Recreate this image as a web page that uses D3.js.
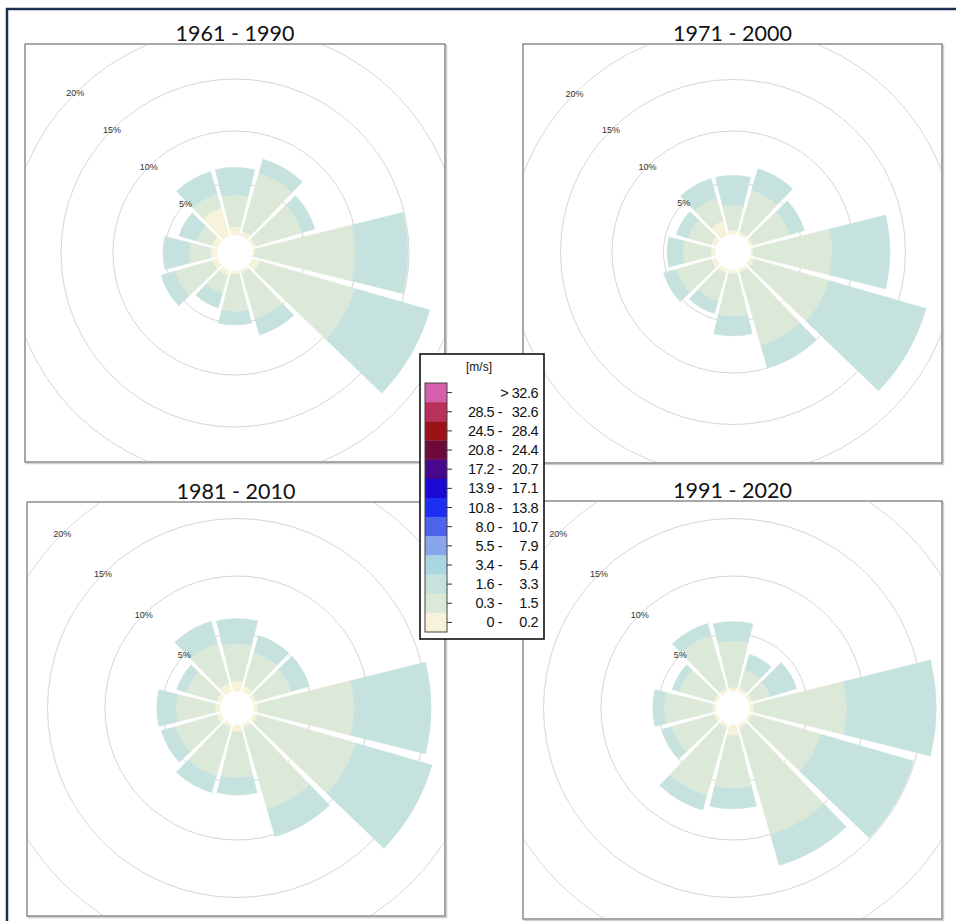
<!DOCTYPE html>
<html>
<head>
<meta charset="utf-8">
<script src="https://cdn.jsdelivr.net/npm/d3@7/dist/d3.min.js"></script>
<style>
    body { margin: 0; background: #fff; }
    svg text { font-family: "Liberation Sans", Arial, sans-serif; }
</style>
</head>
<body>
<div id="chart"></div>
<script>
// wind direction of each sector (degrees from north)
const directions = [0, 30, 60, 90, 120, 150, 180, 210, 240, 270, 300, 330];

const periods = ["1961 - 1990", "1971 - 2000", "1981 - 2010", "1991 - 2020"];

// frequency (%) per direction for the speed classes 0-0.2, 0.3-1.5, 1.6-3.3 m/s
const calm6190 = [0.8, 0.5, 0.4, 0.2, 0.8, 0.3, 0.3, 0.5, 0.6, 0.6, 0.6, 2.8];
const low6190  = [3.05, 5.8, 4.6, 9.6, 9.5, 4.6, 3.6, 1.8, 3.7, 2.1, 1.5, 1.4];
const mid6190  = [2.65, 1.4, 1.3, 5.1, 7.5, 1.6, 1.3, 1.5, 1.4, 2.5, 1.8, 2.25];

const calm7100 = [0.4, 0.3, 0.3, 0.2, 0.4, 0.3, 0.4, 0.4, 0.5, 0.4, 0.5, 1.4];
const low7100  = [2.4, 4.2, 3.7, 7.65, 7.6, 7.4, 4.1, 2.8, 3.5, 2.7, 2.3, 2.3];
const mid7100  = [2.9, 2.2, 1.5, 5.65, 9.8, 2.3, 1.9, 1.3, 1.3, 1.55, 1.2, 2.0];

const calm8110 = [0.9, 0.5, 0.3, 0.3, 0.4, 0.3, 0.6, 0.3, 0.4, 0.4, 0.4, 0.8];
const low8110  = [3.2, 3.1, 3.15, 8.4, 8.9, 7.4, 4.0, 4.4, 3.7, 3.4, 2.7, 3.6];
const mid8110  = [2.2, 1.5, 1.65, 6.7, 6.9, 2.5, 1.5, 1.5, 1.3, 1.7, 0.9, 2.0];

const calm9120 = [0.3, 0.3, 0.3, 0.3, 0.3, 0.3, 0.9, 0.3, 0.3, 0.3, 0.3, 0.3];
const low9120  = [4.05, 1.7, 1.6, 8.1, 6.2, 9.7, 4.6, 6.2, 3.8, 4.2, 3.1, 4.8];
const mid9120  = [1.7, 1.4, 2.4, 7.8, 8.4, 2.8, 1.8, 1.3, 0.9, 1.0, 0.65, 1.1];

// legend classes [m/s], top to bottom
const speedLow  = ["> 32.6", "28.5 -", "24.5 -", "20.8 -", "17.2 -", "13.9 -", "10.8 -", "8.0 -", "5.5 -", "3.4 -", "1.6 -", "0.3 -", "0 -"];
const speedHigh = ["", "32.6", "28.4", "24.4", "20.7", "17.1", "13.8", "10.7", "7.9", "5.4", "3.3", "1.5", "0.2"];
const speedColors = ["#d45fab", "#b7315b", "#9b1218", "#6c0a3c", "#46098c", "#1b08d2", "#1f2ef4",
                     "#4c63ea", "#88a4ea", "#a9d6df", "#c6e2df", "#dde9d8", "#f6f3da"];

const ringTicks = [5, 10, 15, 20];

// the three classes shown in the roses use the last three legend colours
const binColors = [speedColors[12], speedColors[11], speedColors[10]];

const panels = [
    { title: periods[0], bins: [calm6190, low6190, mid6190], box: [25, 44, 420, 418], cx: 235, cy: 253, hole: 18, r20: 226 },
    { title: periods[1], bins: [calm7100, low7100, mid7100], box: [523, 44, 419, 419], cx: 733, cy: 252, hole: 18, r20: 224 },
    { title: periods[2], bins: [calm8110, low8110, mid8110], box: [27, 502, 418, 414], cx: 237, cy: 708, hole: 17, r20: 247 },
    { title: periods[3], bins: [calm9120, low9120, mid9120], box: [523, 501, 419, 418], cx: 733, cy: 708, hole: 17, r20: 247 }
];

const width = 956, height = 921;

const svg = d3.select("#chart").append("svg")
    .attr("width", width)
    .attr("height", height);

// outer frame (only top and left edges fall inside the picture)
svg.append("path")
    .attr("d", "M7," + height + "V9H" + width)
    .attr("fill", "none")
    .attr("stroke", "#1d2f4e")
    .attr("stroke-width", 2.5);

const deg = Math.PI / 180;
const half = 15 * deg - 1.1 * deg;

let arc = d3.arc()
    .padAngle(0.015)
    .padRadius(100);

panels.forEach((p, k) => {
    let [bx, by, bw, bh] = p.box;

    // radial scale: 0% at the inner hole
    let r = d3.scaleLinear().domain([0, 20]).range([p.hole, p.r20]);

    // title
    svg.append("text")
        .attr("x", bx + bw / 2)
        .attr("y", by - 3)
        .attr("text-anchor", "middle")
        .attr("font-size", 21.5)
        .attr("font-weight", 400)
        .style("font-family", "Lato, 'Open Sans', sans-serif")
        .attr("fill", "#111")
        .text(p.title);

    // panel box with a light shadow
    svg.append("rect")
        .attr("x", bx + 1.5).attr("y", by + 1.5)
        .attr("width", bw).attr("height", bh)
        .attr("fill", "none")
        .attr("stroke", "#cfcfcf")
        .attr("stroke-width", 1.5);
    svg.append("rect")
        .attr("x", bx).attr("y", by)
        .attr("width", bw).attr("height", bh)
        .attr("fill", "#fff")
        .attr("stroke", "#7a7a7a")
        .attr("stroke-width", 1.3);

    svg.append("clipPath")
        .attr("id", "clip" + k)
        .append("rect")
        .attr("x", bx + 1).attr("y", by + 1)
        .attr("width", bw - 2).attr("height", bh - 2);

    let g = svg.append("g")
        .attr("clip-path", "url(#clip" + k + ")")
        .append("g")
        .attr("transform", "translate(" + p.cx + "," + p.cy + ")");

    // grid rings
    g.selectAll(".ring")
        .data(ringTicks)
        .enter().append("circle")
        .attr("class", "ring")
        .attr("r", d => r(d))
        .attr("fill", "none")
        .attr("stroke", "#d6d6d6")
        .attr("stroke-width", 1);

    // stack the classes for every direction
    let segs = [];
    directions.forEach((dir, i) => {
        let acc = 0;
        p.bins.forEach((bin, j) => {
            segs.push({ dir: dir, j: j, from: acc, to: acc + bin[i] });
            acc += bin[i];
        });
    });

    g.selectAll(".seg")
        .data(segs)
        .enter().append("path")
        .attr("class", "seg")
        .attr("d", d => arc({
            innerRadius: r(d.from),
            outerRadius: r(d.to),
            startAngle: d.dir * deg - half,
            endAngle: d.dir * deg + half
        }))
        .attr("fill", d => binColors[d.j])
        .attr("stroke", d => binColors[d.j])
        .attr("stroke-width", 0.4);

    // ring labels along the north-west direction
    g.selectAll(".ringLabel")
        .data(ringTicks)
        .enter().append("text")
        .attr("class", "ringLabel")
        .attr("x", d => -r(d) * Math.SQRT1_2)
        .attr("y", d => -r(d) * Math.SQRT1_2)
        .attr("text-anchor", "middle")
        .attr("dy", "0.35em")
        .attr("font-size", 9)
        .attr("fill", "#333")
        .text(d => d + "%");
});

// legend
let legend = svg.append("g");

legend.append("rect")
    .attr("x", 420).attr("y", 354)
    .attr("width", 124).attr("height", 285)
    .attr("fill", "#fff")
    .attr("stroke", "#111")
    .attr("stroke-width", 1.6);

legend.append("text")
    .attr("x", 479).attr("y", 371)
    .attr("text-anchor", "middle")
    .attr("font-size", 12)
    .attr("fill", "#111")
    .text("[m/s]");

let yLeg = d3.scaleBand()
    .domain(d3.range(speedColors.length))
    .range([383, 632]);

legend.selectAll(".cell")
    .data(speedColors)
    .enter().append("rect")
    .attr("class", "cell")
    .attr("x", 425)
    .attr("y", (d, i) => yLeg(i))
    .attr("width", 22)
    .attr("height", yLeg.bandwidth() + 0.3)
    .attr("fill", d => d);

legend.append("rect")
    .attr("x", 425).attr("y", 383)
    .attr("width", 22).attr("height", 249)
    .attr("fill", "none")
    .attr("stroke", "#444")
    .attr("stroke-width", 1);

legend.selectAll(".tick")
    .data(speedColors)
    .enter().append("line")
    .attr("x1", 447).attr("x2", 452)
    .attr("y1", (d, i) => yLeg(i) + yLeg.bandwidth() / 2)
    .attr("y2", (d, i) => yLeg(i) + yLeg.bandwidth() / 2)
    .attr("stroke", "#333")
    .attr("stroke-width", 1);

legend.selectAll(".lo")
    .data(speedLow)
    .enter().append("text")
    .attr("x", (d, i) => i === 0 ? 538 : 502)
    .attr("y", (d, i) => yLeg(i) + yLeg.bandwidth() / 2 + 5)
    .attr("text-anchor", "end")
    .attr("font-size", 14.5)
    .attr("letter-spacing", -0.5)
    .attr("fill", "#111")
    .text(d => d);

legend.selectAll(".hi")
    .data(speedHigh)
    .enter().append("text")
    .attr("x", 538)
    .attr("y", (d, i) => yLeg(i) + yLeg.bandwidth() / 2 + 5)
    .attr("text-anchor", "end")
    .attr("font-size", 14.5)
    .attr("letter-spacing", -0.5)
    .attr("fill", "#111")
    .text(d => d);
</script>
</body>
</html>
